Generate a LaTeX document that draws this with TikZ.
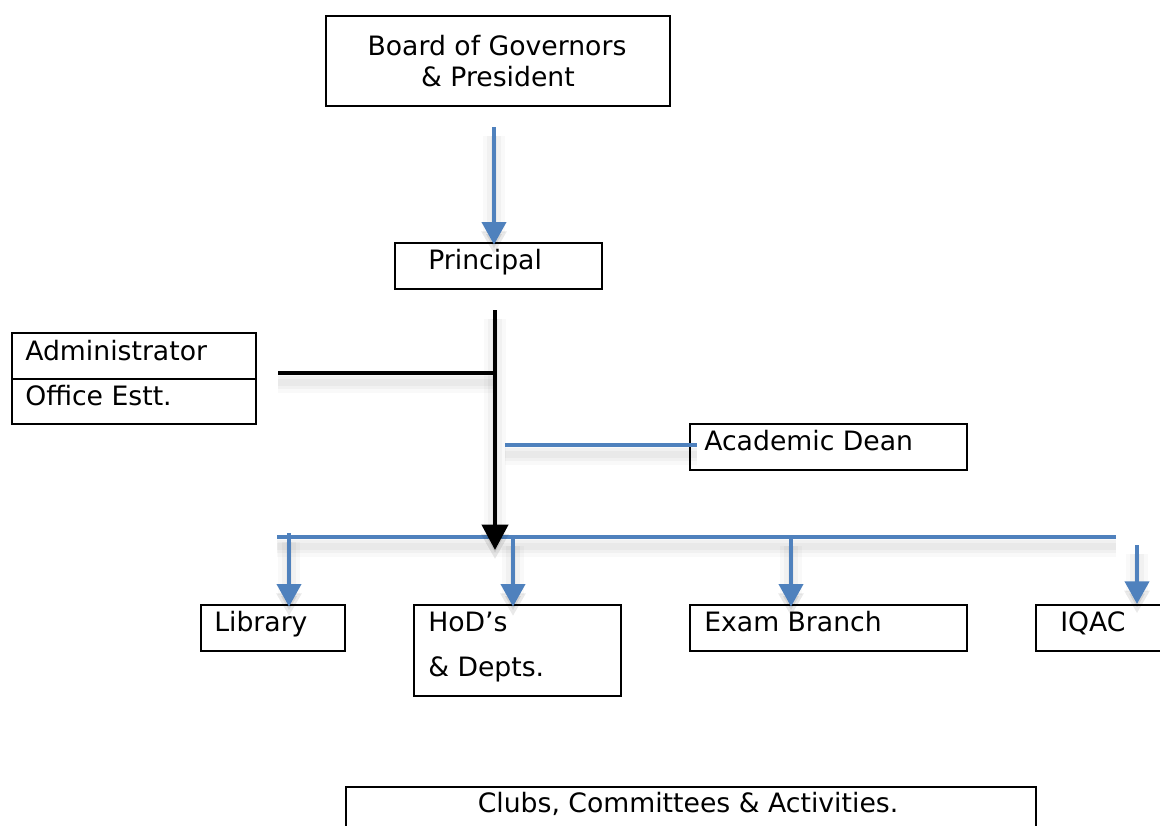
\documentclass[tikz,border=0pt]{standalone}
\usepackage{fontspec}
\setmainfont{DejaVu Sans}
\usetikzlibrary{arrows.meta}
\definecolor{linkblue}{RGB}{79,129,189}
\begin{document}
\begin{tikzpicture}[x=0.75pt,y=-0.75pt,
  box/.style={draw=black, line width=1.3pt, inner sep=0pt, anchor=north west},
  lbl/.style={anchor=base west, inner sep=0pt, font=\fontsize{20}{24}\selectfont},
  clbl/.style={lbl, anchor=base},
  % soft drop shadow under every connector, built from a few faint layers
  soft/.style={
    preaction={draw=black, opacity=0.025, line width=16pt,
      transform canvas={yshift=-7pt}},
    preaction={draw=black, opacity=0.03, line width=10pt,
      transform canvas={yshift=-7pt}},
    preaction={draw=black, opacity=0.03, line width=5pt,
      transform canvas={yshift=-7pt}}},
  blueline/.style={draw=linkblue, line width=3pt, soft},
  bluearrow/.style={blueline, -{Triangle[width=18pt,length=17pt]}},
  blackline/.style={draw=black, line width=3pt, soft},
  blackarrow/.style={blackline, -{Triangle[width=19.5pt,length=19pt]}}]
\clip (0,0) rectangle (1160,825);
\fill[white] (0,0) rectangle (1160,825);

% boxes
\node[box, minimum width=258pt, minimum height=67.5pt] (board) at (325,15) {};
\node[box, minimum width=155.25pt, minimum height=34.5pt] (principal) at (394,242) {};
\node[box, minimum width=183pt, minimum height=34.5pt] (admin) at (11,332) {};
\node[box, minimum width=183pt, minimum height=33.75pt] (office) at (11,378) {};
\node[box, minimum width=207.75pt, minimum height=34.5pt] (dean) at (689,423) {};
\node[box, minimum width=108pt, minimum height=34.5pt] (library) at (200,604) {};
\node[box, minimum width=155.25pt, minimum height=68.25pt] (hod) at (413,604) {};
\node[box, minimum width=207.75pt, minimum height=34.5pt] (exam) at (689,604) {};
\node[box, minimum width=105pt, minimum height=34.5pt] (iqac) at (1035,604) {};
\node[box, minimum width=517.5pt, minimum height=45pt] (clubs) at (345,786) {};

% texts
\node[clbl] (tBoard1) at (497,55) {Board of Governors};
\node[clbl] (tBoard2) at (498,86) {\& President};
\node[lbl] (tPrincipal) at (428,269) {Principal};
\node[lbl] (tAdmin) at (25,360) {Administrator};
\node[lbl] (tOffice) at (25,405) {Office Estt.};
\node[lbl] (tDean) at (704,450) {Academic Dean};
\node[lbl] (tLibrary) at (214,631) {Library};
\node[lbl] (tHod1) at (428,631) {HoD’s};
\node[lbl] (tHod2) at (428,676) {\& Depts.};
\node[lbl] (tExam) at (704,631) {Exam Branch};
\node[lbl] (tIqac) at (1060,631) {IQAC};
\node[clbl] (tClubs) at (688,812) {Clubs, Committees \& Activities.};

% connector anchor points
\coordinate (bpStart) at (494,127);
\coordinate (spineTop) at (495,310);
\coordinate (spineEnd) at (495,550);
\coordinate (adminStub) at (278,373);
\coordinate (deanStub) at (505,445);
\coordinate (busL) at (277,537);
\coordinate (busR) at (1116,537);
\coordinate (libTop) at (289,533);
\coordinate (hodTop) at (513,537);
\coordinate (examTop) at (791,537);
\coordinate (iqacTop) at (1137,545);

% connectors
\draw[bluearrow, shorten >=-2pt] (bpStart) -- (bpStart |- principal.north);
\draw[blueline] (busL) -- (busR);
\draw[blackarrow] (spineTop) -- (spineEnd);
\draw[blackline] (adminStub) -- (adminStub -| spineTop);
\draw[blueline, shorten >=-6pt] (deanStub) -- (deanStub -| dean.west);
\draw[bluearrow, shorten >=-2pt] (libTop) -- (libTop |- library.north);
\draw[bluearrow, shorten >=-2pt] (hodTop) -- (hodTop |- hod.north);
\draw[bluearrow, shorten >=-2pt] (examTop) -- (examTop |- exam.north);
\draw[bluearrow] (iqacTop) -- (iqacTop |- iqac.north);
\end{tikzpicture}
\end{document}
